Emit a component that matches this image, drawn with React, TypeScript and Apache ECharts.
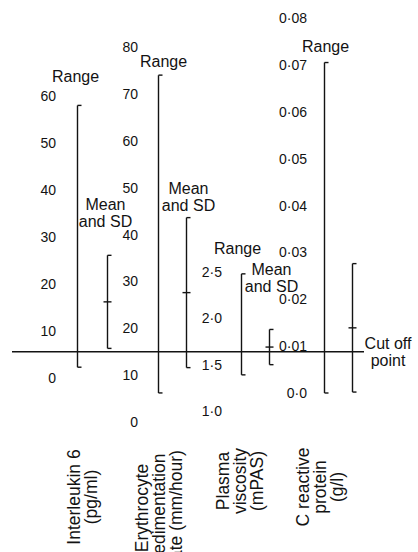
import React, { useEffect, useRef } from "react";
import * as echarts from "echarts";

// ---- Data ----
const categories = [
  "Interleukin 6\n(pg/ml)",
  "Erythrocyte\nsedimentation\nrate (mm/hour)",
  "Plasma\nviscosity\n(mPAS)",
  "C reactive\nprotein\n(g/l)",
];
const rangeMin = [2.3, 6.2, 1.39, 0.0];
const rangeMax = [58, 74, 2.48, 0.0705];
const means = [16.2, 27.6, 1.69, 0.0139];
const sds = [9.9, 16.0, 0.19, 0.0137];
const axisMin = [0, 0, 1.0, 0];
const axisMax = [60, 80, 2.5, 0.08];
const axisInterval = [10, 10, 0.5, 0.01];
const axisDecimals = [0, 0, 1, 2];
const rangeLabels = ["Range", "Range", "Range", "Range"];
const meanLabels = ["Mean\nand SD", "Mean\nand SD", "Mean\nand SD", ""];
const cutOffESR = 15; // cut-off drawn on the ESR scale
const cutOffLabel = "Cut off\npoint";

// ---- Layout / style (not data) ----
const gridLeft = [62, 144, 227, 310];
const gridWidth = [60, 56, 56, 56];
const gridTop = [96, 47, 272, 18];
const gridHeight = [282, 375, 139, 375];
const labelMargin = [6, 6, 5, 3];
const rangeLabelDx = [-2, 5, -4, 1];
const rangeLabelDy = [-29, -14, -25, -16];
const meanLabelDx = [-2, 2, 2, 0];
const meanLabelDy = [-42, -21, -51, 0];
const catLabelX = [82, 159, 240, 320];
const catLabelY = [497, 508, 481, 487];

const INK = "#131313";
const FONT = '"Liberation Sans", Arial, sans-serif';

function fmt(i: number) {
  return (v: number) => {
    if (axisDecimals[i] === 0) return String(Math.round(v));
    if (i === 3 && Math.abs(v) < 1e-9) return "0·0";
    return v.toFixed(axisDecimals[i]).replace(".", "·");
  };
}

function makeRender(label: string, dx: number, dy: number, withMean: boolean) {
  return (params: any, api: any) => {
    const cat = api.value(0);
    const lo = api.value(1);
    const hi = api.value(2);
    const pTop = api.coord([cat, hi]);
    const pBot = api.coord([cat, lo]);
    const x = Math.round(pTop[0]) + 0.5;
    const st = { stroke: INK, lineWidth: 1.4 };
    const children: any[] = [
      { type: "line", shape: { x1: x, y1: pTop[1], x2: x, y2: pBot[1] }, style: st },
      { type: "line", shape: { x1: x, y1: pTop[1], x2: x + 4, y2: pTop[1] }, style: st },
      { type: "line", shape: { x1: x, y1: pBot[1], x2: x + 4, y2: pBot[1] }, style: st },
    ];
    if (withMean) {
      const m = api.value(3);
      const pm = api.coord([cat, m]);
      children.push({
        type: "line",
        shape: { x1: x - 4, y1: pm[1], x2: x + 4, y2: pm[1] },
        style: st,
      });
    }
    if (label) {
      children.push({
        type: "text",
        x: x + dx,
        y: pTop[1] + dy,
        style: {
          text: label,
          align: "center",
          verticalAlign: "middle",
          textAlign: "center",
          textVerticalAlign: "middle",
          font: `16px ${FONT}`,
          lineHeight: 17,
          fill: INK,
        },
      });
    }
    return { type: "group", children };
  };
}

export default function App() {
  const ref = useRef<HTMLDivElement>(null);
  useEffect(() => {
    if (!ref.current) return;
    const chart = echarts.init(ref.current, undefined, { renderer: "svg" });

    const grid: any[] = [];
    const xAxis: any[] = [];
    const yAxis: any[] = [];
    const series: any[] = [];

    for (let i = 0; i < 4; i++) {
      grid.push({
        left: gridLeft[i],
        top: gridTop[i],
        width: gridWidth[i],
        height: gridHeight[i],
      });
      xAxis.push({
        gridIndex: i,
        type: "category",
        data: ["Range", "Mean and SD"],
        show: false,
      });
      yAxis.push({
        gridIndex: i,
        type: "value",
        min: axisMin[i],
        max: axisMax[i],
        interval: axisInterval[i],
        axisLine: { show: false },
        axisTick: { show: false },
        splitLine: { show: false },
        axisLabel: {
          color: INK,
          fontSize: 14,
          fontFamily: FONT,
          margin: labelMargin[i],
          formatter: fmt(i),
        },
      });
      series.push({
        type: "custom",
        name: "range" + i,
        xAxisIndex: i,
        yAxisIndex: i,
        renderItem: makeRender(rangeLabels[i], rangeLabelDx[i], rangeLabelDy[i], false),
        data: [[0, rangeMin[i], rangeMax[i]]],
        silent: true,
      });
      series.push({
        type: "custom",
        name: "mean" + i,
        xAxisIndex: i,
        yAxisIndex: i,
        renderItem: makeRender(meanLabels[i], meanLabelDx[i], meanLabelDy[i], true),
        data: [[1, means[i] - sds[i], means[i] + sds[i], means[i]]],
        silent: true,
      });
    }

    // overlay grid for cut-off line, sharing the ESR scale
    grid.push({ left: 12, width: 352, top: gridTop[1], height: gridHeight[1] });
    xAxis.push({ gridIndex: 4, type: "value", min: 0, max: 1, show: false });
    yAxis.push({ gridIndex: 4, type: "value", min: axisMin[1], max: axisMax[1], show: false });
    series.push({
      type: "line",
      xAxisIndex: 4,
      yAxisIndex: 4,
      data: [
        [0, cutOffESR],
        [1, cutOffESR],
      ],
      symbol: "circle",
      symbolSize: 0,
      showSymbol: true,
      lineStyle: { color: INK, width: 1.5 },
      itemStyle: { color: INK },
      label: {
        show: true,
        formatter: (p: any) => (p.dataIndex === 1 ? cutOffLabel : ""),
        position: "right",
        distance: 24,
        align: "center",
        verticalAlign: "middle",
        color: INK,
        fontSize: 16,
        lineHeight: 17,
        fontFamily: FONT,
      },
      silent: true,
    });

    const graphic = categories.map((t, i) => ({
      type: "text",
      x: catLabelX[i],
      y: catLabelY[i],
      rotation: Math.PI / 2,
      style: {
        text: t,
        align: "center",
        verticalAlign: "middle",
        font: `17.5px ${FONT}`,
        lineHeight: 17,
        fill: INK,
      },
    }));

    chart.setOption({
      animation: false,
      backgroundColor: "#ffffff",
      grid,
      xAxis,
      yAxis,
      series,
      graphic,
    });
    return () => chart.dispose();
  }, []);
  return (
    <div
      ref={ref}
      style={{ position: "fixed", left: 0, top: 0, width: 418, height: 552, background: "#fff" }}
    />
  );
}
